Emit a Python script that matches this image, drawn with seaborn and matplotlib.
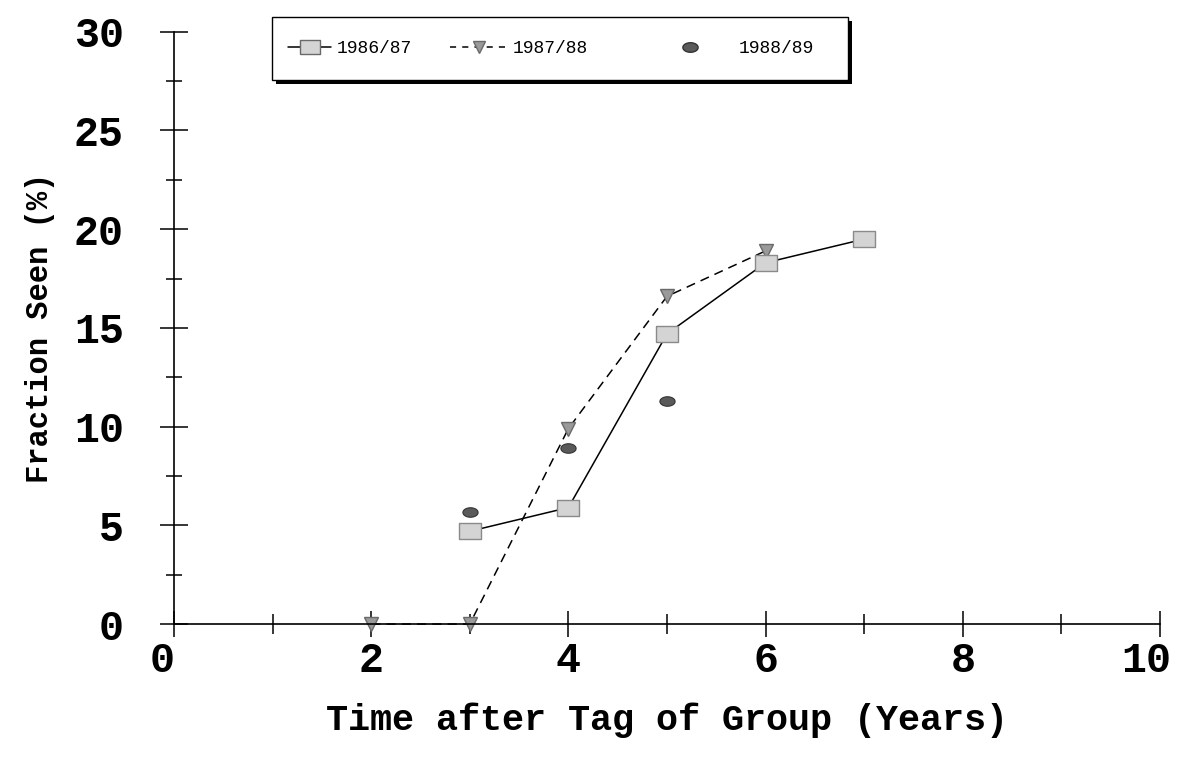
import numpy as np
import pandas as pd
import matplotlib
matplotlib.use("Agg")
import matplotlib.pyplot as plt
import matplotlib.transforms as mtransforms
from matplotlib.lines import Line2D
from matplotlib.patches import Rectangle
from matplotlib.ticker import MultipleLocator
import seaborn as sns

# ---- data ----
years_8687 = [3, 4, 5, 6, 7]
frac_8687 = [4.7, 5.9, 14.7, 18.3, 19.5]

years_8788 = [2, 3, 4, 5, 6]
frac_8788 = [0.0, 0.0, 9.9, 16.6, 18.9]

years_8889 = [3, 4, 5]
frac_8889 = [5.7, 8.9, 11.3]

series_labels = ["1986/87", "1987/88", "1988/89"]
x_ticks = [0, 2, 4, 6, 8, 10]
y_ticks = [0, 5, 10, 15, 20, 25, 30]

sns.set_theme(style="white")
plt.rcParams["font.family"] = ["Liberation Mono", "DejaVu Sans Mono", "DejaVu Sans"]
plt.rcParams["text.color"] = "black"
plt.rcParams["axes.labelcolor"] = "black"
plt.rcParams["xtick.color"] = "black"
plt.rcParams["ytick.color"] = "black"

W, H = 1178, 764
fig = plt.figure(figsize=(W / 100, H / 100), dpi=100)
fig.patch.set_facecolor("white")
ax = fig.add_axes([0.1477, 0.1832, 0.8370, 0.7752])
ax.set_facecolor("white")

rect_marker = [(-1.4, -1), (1.4, -1), (1.4, 1), (-1.4, 1), (-1.4, -1)]
t = np.linspace(0, 2 * np.pi, 40)
ell_marker = list(zip(1.6 * np.cos(t), 1.0 * np.sin(t)))

df1 = pd.DataFrame({"x": years_8687, "y": frac_8687})
df2 = pd.DataFrame({"x": years_8788, "y": frac_8788})
df3 = pd.DataFrame({"x": years_8889, "y": frac_8889})

sns.lineplot(data=df2, x="x", y="y", ax=ax, color="black", lw=1.1,
             linestyle=(0, (6, 4)), marker="v", markersize=10,
             markerfacecolor="#9a9a9a", markeredgecolor="#6a6a6a",
             markeredgewidth=1.0, clip_on=False, zorder=3)
sns.lineplot(data=df1, x="x", y="y", ax=ax, color="black", lw=1.1,
             marker=rect_marker, markersize=16,
             markerfacecolor="#d4d4d4", markeredgecolor="#8a8a8a",
             markeredgewidth=1.0, clip_on=False, zorder=4)
sns.scatterplot(data=df3, x="x", y="y", ax=ax, marker=ell_marker, s=120,
                color="#5a5a5a", edgecolor="#333333", linewidth=0.8,
                clip_on=False, zorder=4)

ax.set_xlim(0, 10)
ax.set_ylim(0, 30)
ax.set_xticks(x_ticks)
ax.set_yticks(y_ticks)
ax.xaxis.set_minor_locator(MultipleLocator(1))
ax.yaxis.set_minor_locator(MultipleLocator(2.5))
for s in ["top", "right"]:
    ax.spines[s].set_visible(False)
for s in ["left", "bottom"]:
    ax.spines[s].set_color("black")
    ax.spines[s].set_linewidth(1.2)
    ax.spines[s].set_zorder(5)

ax.tick_params(axis="both", which="both", direction="inout", color="black",
               labelcolor="black", width=1.1, bottom=True, left=True,
               top=False, right=False)
ax.tick_params(axis="x", which="major", length=19, pad=3, labelsize=30)
ax.tick_params(axis="x", which="minor", length=15)
ax.tick_params(axis="y", which="major", length=20, pad=26, labelsize=30)
ax.tick_params(axis="y", which="minor", length=11)
xlabs = ax.get_xticklabels()
for lab in xlabs + ax.get_yticklabels():
    lab.set_fontweight("bold")
xlabs[0].set_transform(xlabs[0].get_transform() +
                       mtransforms.ScaledTranslation(-12 / 100, 0, fig.dpi_scale_trans))
xlabs[-1].set_transform(xlabs[-1].get_transform() +
                        mtransforms.ScaledTranslation(-14 / 100, 0, fig.dpi_scale_trans))

ax.set_xlabel("Time after Tag of Group (Years)", fontsize=26.5,
              fontweight="bold", labelpad=15, color="black")
ax.set_ylabel("Fraction Seen (%)", fontsize=22, fontweight="bold",
              labelpad=14, color="black")

# ---- legend: framed box with solid drop shadow ----
bx0, bx1, by0, by1 = 272, 848, 17, 80
sh = 4
fig.patches.append(Rectangle(((bx0 + sh) / W, 1 - (by1 + sh) / H),
                             (bx1 - bx0) / W, (by1 - by0) / H,
                             transform=fig.transFigure, facecolor="black",
                             edgecolor="black", lw=0, zorder=1))
fig.patches.append(Rectangle((bx0 / W, 1 - by1 / H),
                             (bx1 - bx0) / W, (by1 - by0) / H,
                             transform=fig.transFigure, facecolor="white",
                             edgecolor="black", lw=1.0, zorder=2))

handles = [
    Line2D([], [], color="black", lw=1.1, marker=rect_marker, markersize=14,
           markerfacecolor="#d4d4d4", markeredgecolor="#6a6a6a"),
    Line2D([], [], color="black", lw=1.1, linestyle=(0, (4, 4)), marker="v",
           markersize=9, markerfacecolor="#9a9a9a", markeredgecolor="#6a6a6a"),
    Line2D([], [], color="none", lw=0, marker=ell_marker, markersize=11,
           markerfacecolor="#5a5a5a", markeredgecolor="#333333"),
]
entry_x = [288, 450, 647]
entry_len = [2.4, 3.2, 4.8]
ymid = 1 - (by0 + by1) / 2 / H
for h, lab, ex, hl in zip(handles, series_labels, entry_x, entry_len):
    lg = fig.legend([h], [lab], loc="center left", bbox_to_anchor=(ex / W, ymid),
                    fontsize=13, frameon=False, handlelength=hl,
                    handletextpad=0.3, borderpad=0, borderaxespad=0,
                    labelcolor="black")
    lg.set_zorder(3)

fig.savefig("out.png", dpi=100, facecolor="white")
